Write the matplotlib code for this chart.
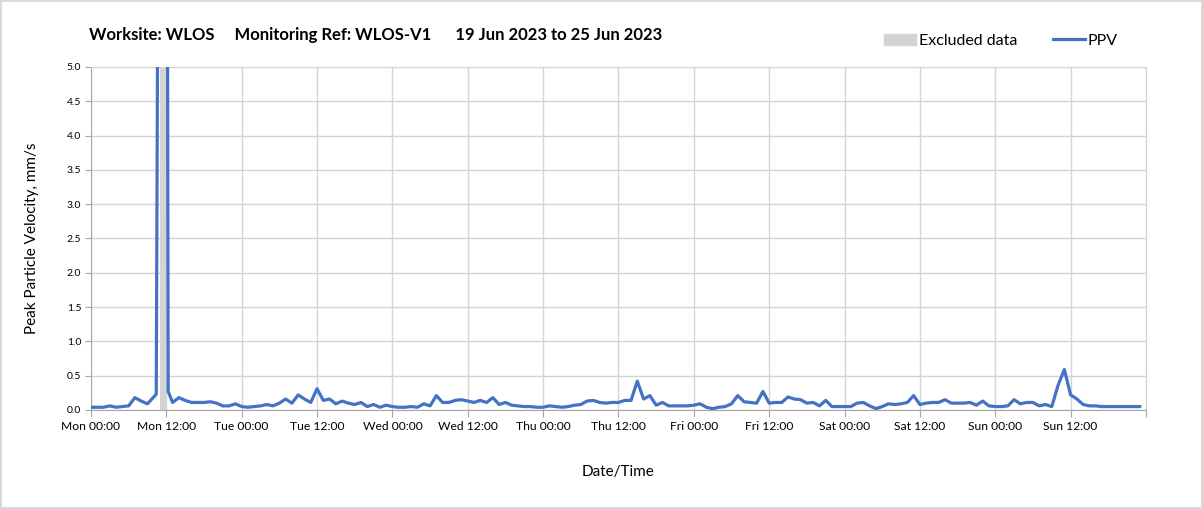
import numpy as np
import matplotlib
matplotlib.use("Agg")
import matplotlib.pyplot as plt
from matplotlib.patches import Patch
from matplotlib.lines import Line2D

plt.rcParams["font.family"] = ["Lato", "DejaVu Sans"]

# hourly PPV readings (mm/s) from Mon 19 Jun 00:00; NaN where the excluded window sits
ppv_hourly = [
    # Mon
    0.04, 0.04, 0.04, 0.06, 0.04, 0.05, 0.06, 0.18, 0.13, 0.09, np.nan, np.nan,
    np.nan, 0.11, 0.18, 0.14, 0.11, 0.11, 0.11, 0.12, 0.10, 0.06, 0.06, 0.09,
    # Tue
    0.05, 0.04, 0.05, 0.06, 0.08, 0.06, 0.10, 0.16, 0.10, 0.22, 0.16, 0.11,
    0.31, 0.14, 0.16, 0.09, 0.13, 0.10, 0.08, 0.11, 0.05, 0.08, 0.04, 0.07,
    # Wed
    0.05, 0.04, 0.04, 0.05, 0.04, 0.09, 0.06, 0.21, 0.11, 0.11, 0.14, 0.15,
    0.13, 0.11, 0.14, 0.11, 0.18, 0.08, 0.11, 0.07, 0.06, 0.05, 0.05, 0.04,
    # Thu
    0.04, 0.06, 0.05, 0.04, 0.05, 0.07, 0.08, 0.13, 0.14, 0.11, 0.10, 0.11,
    0.11, 0.14, 0.14, 0.42, 0.16, 0.21, 0.07, 0.11, 0.06, 0.06, 0.06, 0.06,
    # Fri
    0.07, 0.09, 0.04, 0.02, 0.04, 0.05, 0.09, 0.21, 0.12, 0.11, 0.10, 0.27,
    0.10, 0.11, 0.11, 0.19, 0.16, 0.15, 0.10, 0.11, 0.06, 0.14, 0.05, 0.05,
    # Sat
    0.05, 0.05, 0.10, 0.11, 0.06, 0.02, 0.05, 0.09, 0.08, 0.09, 0.11, 0.21,
    0.08, 0.10, 0.11, 0.11, 0.15, 0.10, 0.10, 0.10, 0.11, 0.07, 0.13, 0.06,
    # Sun
    0.05, 0.05, 0.06, 0.15, 0.09, 0.11, 0.11, 0.06, 0.08, 0.05, 0.36, 0.59,
    0.22, 0.16, 0.08, 0.06, 0.06, 0.05, 0.05, 0.05, 0.05, 0.05, 0.05, 0.05,
]
# readings around the excluded window (hours from Mon 00:00)
excl_times = [10.4, 11.0, 12.0, 12.3]
excl_ppv = [0.23, 15.0, 15.0, 0.27]
excl_window = (11.0, 12.0)

days = ["Mon", "Tue", "Wed", "Thu", "Fri", "Sat", "Sun"]
tick_labels = [f"{d} {h}" for d in days for h in ("00:00", "12:00")] + [""]

hrs = np.arange(len(ppv_hourly), dtype=float)
vals = np.array(ppv_hourly, dtype=float)
keep = ~np.isnan(vals)
t = np.concatenate([hrs[keep], excl_times])
v = np.concatenate([vals[keep], excl_ppv])
order = np.argsort(t)
t, v = t[order], v[order]

fig = plt.figure(figsize=(12.03, 5.09), dpi=100)
fig.patch.set_edgecolor("#d9d9d9")
fig.patch.set_linewidth(1.5)
ax = fig.add_axes([0.0756, 0.1945, 0.877, 0.674])

ax.axvspan(*excl_window, color="#d4d4d4", lw=0, zorder=1)
ax.plot(t, v, color="#4472C4", lw=2.3, zorder=3, clip_on=True)

ax.set_xlim(0, 168)
ax.set_ylim(0, 5)
ax.set_xticks(np.arange(0, 169, 12))
ax.set_xticklabels(tick_labels, fontsize=8.7)
ax.set_yticks(np.arange(0, 5.01, 0.5))
ax.set_yticklabels([f"{y:.1f}" for y in np.arange(0, 5.01, 0.5)], fontsize=7.5)
ax.grid(True, color="#d4d4d4", lw=1.0, zorder=0)
ax.set_axisbelow(True)
for s in ax.spines.values():
    s.set_color("#d4d4d4")
ax.spines["left"].set_color("#a6a6a6")
ax.spines["bottom"].set_color("#a6a6a6")
ax.tick_params(axis="x", length=5, color="#a6a6a6", pad=3)
ax.tick_params(axis="y", length=4, color="#a6a6a6", pad=3)

ax.set_ylabel("Peak Particle Velocity, mm/s", fontsize=11, labelpad=20)
ax.set_xlabel("Date/Time", fontsize=11, labelpad=24)

fig.text(0.074, 0.931,
         "Worksite: WLOS     Monitoring Ref: WLOS-V1      19 Jun 2023 to 25 Jun 2023",
         fontsize=12, fontweight="bold", va="center", ha="left")

handles = [Patch(color="#d4d4d4", label="Excluded data"),
           Line2D([], [], color="#4472C4", lw=2.3, label="PPV")]
fig.legend(handles=handles, loc="center left", bbox_to_anchor=(0.723, 0.92),
           ncol=2, frameon=False, fontsize=11.5, handlelength=2.0,
           handletextpad=0.2, columnspacing=2.2)

fig.savefig("out.png", dpi=100)
